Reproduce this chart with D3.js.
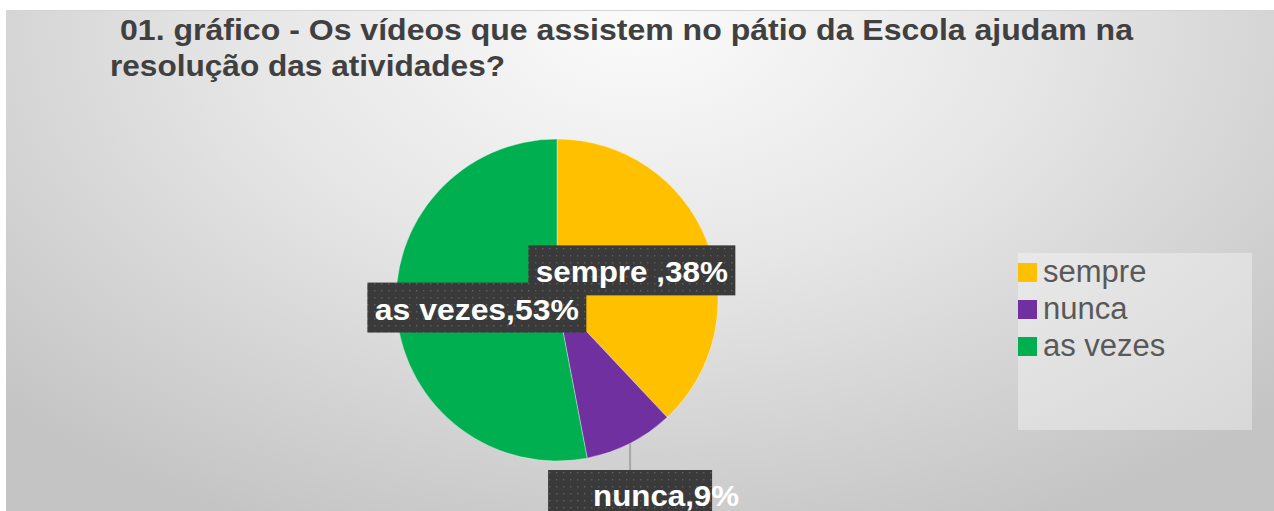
<!DOCTYPE html>
<html>
<head>
<meta charset="utf-8">
<script src="https://cdn.jsdelivr.net/npm/d3@7"></script>
<style>
  html, body { margin: 0; padding: 0; background: #ffffff; }
  svg { display: block; }
  text { font-family: "Liberation Sans", Arial, sans-serif; }
</style>
</head>
<body>
<svg id="chart" width="1274" height="511"></svg>
<script>
// Survey answers: share of students (%)
const categories = ["sempre", "nunca", "as vezes"];
const values = [38, 9, 53];
const labelTexts = ["sempre ,38%", "nunca,9%", "as vezes,53%"];
const colors = ["#FFC000", "#7030A0", "#00B050"];
const titleLines = [
  "01. gráfico - Os vídeos que assistem no pátio da Escola ajudam na",
  "resolução das atividades?"
];

const W = 1274, H = 511;
const svg = d3.select("#chart");
const defs = svg.append("defs");

// Background panel with soft radial shading
const grad = defs.append("radialGradient")
  .attr("id", "bg")
  .attr("gradientUnits", "userSpaceOnUse")
  .attr("cx", 640).attr("cy", 20).attr("r", 1)
  .attr("gradientTransform", "translate(640,20) scale(880,560) translate(-640,-20)");
grad.append("stop").attr("offset", 0).attr("stop-color", "#fbfbfb");
grad.append("stop").attr("offset", 0.45).attr("stop-color", "#e6e6e6");
grad.append("stop").attr("offset", 1).attr("stop-color", "#c4c4c4");

// Dotted fill for the data-label boxes
const pat = defs.append("pattern")
  .attr("id", "dots")
  .attr("patternUnits", "userSpaceOnUse")
  .attr("width", 7).attr("height", 7);
pat.append("rect").attr("width", 7).attr("height", 7).attr("fill", "#3a3a3a");
pat.append("rect").attr("x", 3).attr("y", 3).attr("width", 1.4).attr("height", 1.4).attr("fill", "#5e5e5e");

svg.append("rect")
  .attr("x", 6).attr("y", 10).attr("width", W - 6).attr("height", H - 10)
  .attr("fill", "url(#bg)");
svg.append("line")
  .attr("x1", 6).attr("x2", W).attr("y1", 10.5).attr("y2", 10.5)
  .attr("stroke", "#d4d4d4").attr("stroke-width", 1);

// Title
const titleG = svg.append("g")
  .attr("fill", "#404040")
  .attr("font-weight", "bold")
  .attr("font-size", 30);
titleG.append("text").attr("x", 120).attr("y", 40)
  .attr("textLength", 1013).attr("lengthAdjust", "spacingAndGlyphs")
  .text(titleLines[0]);
titleG.append("text").attr("x", 110).attr("y", 76)
  .attr("textLength", 395).attr("lengthAdjust", "spacingAndGlyphs")
  .text(titleLines[1]);

// Pie
const cx = 557, cy = 300, radius = 161;
const pie = d3.pie().sort(null).value(d => d.value);
const data = categories.map((c, i) => ({ cat: c, value: values[i], label: labelTexts[i], color: colors[i] }));
const arcs = pie(data);
const arc = d3.arc().innerRadius(0).outerRadius(radius);

const pieG = svg.append("g").attr("transform", `translate(${cx},${cy})`);
pieG.selectAll("path.slice")
  .data(arcs)
  .join("path")
  .attr("class", "slice")
  .attr("d", arc)
  .attr("fill", d => d.data.color)
  .attr("stroke", "rgba(255,255,255,0.35)")
  .attr("stroke-width", 1);

// Data labels
const labelG = svg.append("g");
const labelFont = 30;
const textWidths = { "sempre": 192, "nunca": 146, "as vezes": 204 };

arcs.forEach(a => {
  const d = a.data;
  const g = labelG.append("g");
  if (d.cat === "nunca") {
    // outside label with a leader going straight down from the slice edge
    const mid = (a.startAngle + a.endAngle) / 2;
    const ex = cx + radius * Math.sin(mid);
    const ey = cy - radius * Math.cos(mid);
    const boxTop = 470, boxW = 164;
    g.append("line")
      .attr("x1", ex).attr("x2", ex).attr("y1", ey).attr("y2", boxTop)
      .attr("stroke", "#a6a6a6").attr("stroke-width", 2);
    g.append("rect")
      .attr("x", ex - boxW / 2).attr("y", boxTop)
      .attr("width", boxW).attr("height", 60)
      .attr("fill", "url(#dots)");
    g.append("text")
      .attr("x", ex - boxW / 2 + 45).attr("y", boxTop + 36)
      .attr("fill", "#ffffff").attr("font-weight", "bold")
      .attr("font-size", labelFont)
      .attr("textLength", textWidths[d.cat]).attr("lengthAdjust", "spacingAndGlyphs")
      .text(d.label);
  } else {
    const [px, py] = d3.arc().innerRadius(0).outerRadius(radius).centroid(a);
    const x = cx + px, y = cy + py;
    const tw = textWidths[d.cat];
    const bw = tw + 15, bh = 50;
    g.append("rect")
      .attr("x", x - bw / 2).attr("y", y - bh / 2)
      .attr("width", bw).attr("height", bh)
      .attr("fill", "url(#dots)");
    g.append("text")
      .attr("x", x - tw / 2).attr("y", y + 12)
      .attr("fill", "#ffffff").attr("font-weight", "bold")
      .attr("font-size", labelFont)
      .attr("textLength", tw).attr("lengthAdjust", "spacingAndGlyphs")
      .text(d.label);
  }
});

// Legend
const legend = svg.append("g").attr("transform", "translate(1018,253)");
legend.append("rect")
  .attr("width", 234).attr("height", 177)
  .attr("fill", "#ffffff").attr("fill-opacity", 0.35);
const legendY = d3.scaleBand().domain(categories).range([10, 121]);
const items = legend.selectAll("g.item")
  .data(data)
  .join("g")
  .attr("class", "item")
  .attr("transform", d => `translate(0,${legendY(d.cat)})`);
items.append("rect")
  .attr("width", 19).attr("height", 19)
  .attr("fill", d => d.color);
items.append("text")
  .attr("x", 25).attr("y", 19)
  .attr("fill", "#595959")
  .attr("font-size", 31)
  .text(d => d.cat);
</script>
</body>
</html>
